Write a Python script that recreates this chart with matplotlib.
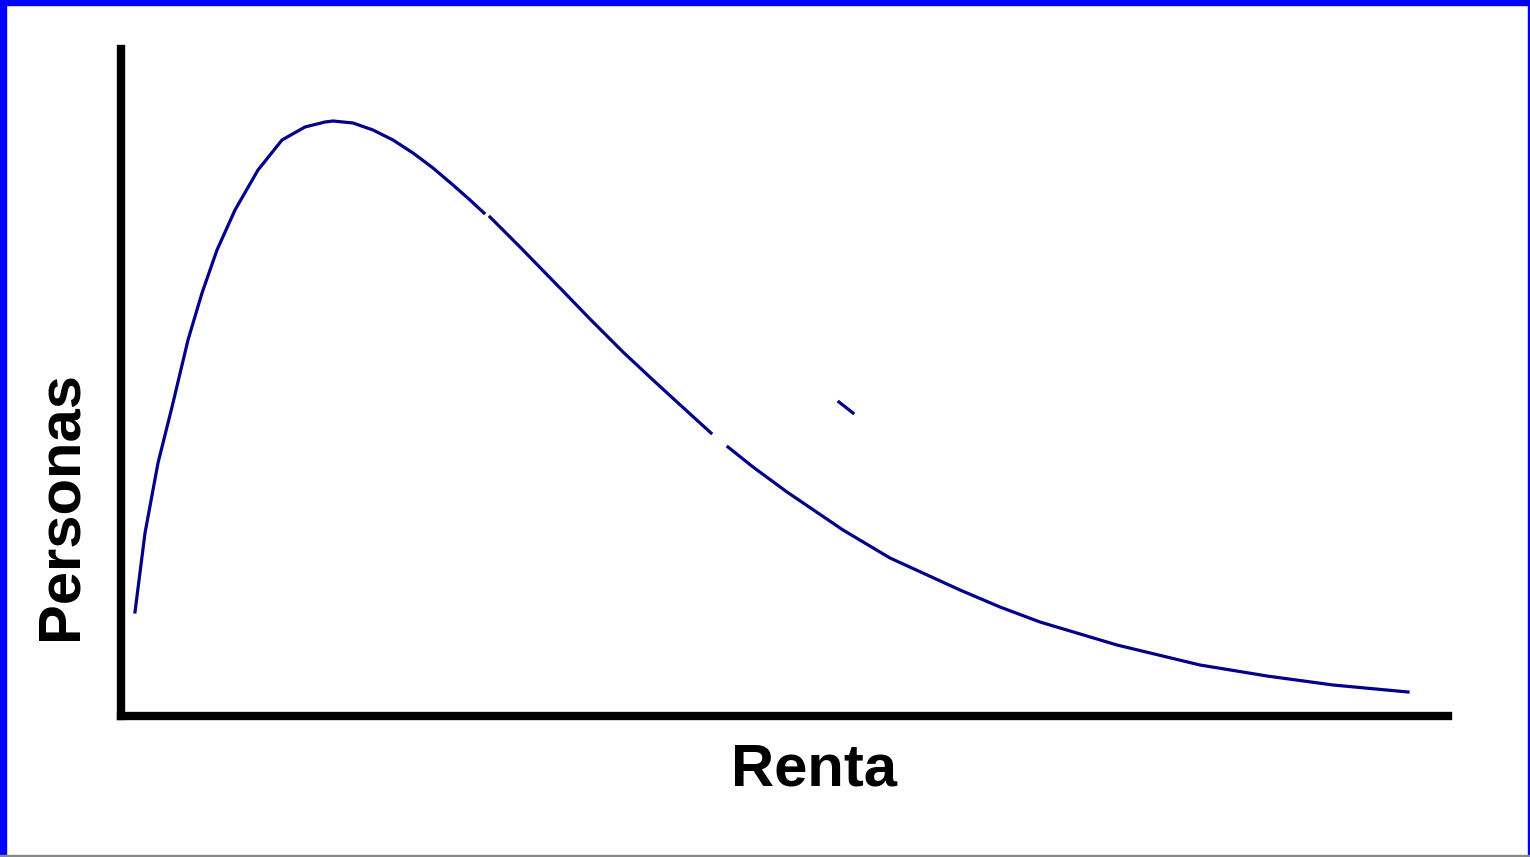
import numpy as np
import matplotlib
matplotlib.use("Agg")
import matplotlib.pyplot as plt
from matplotlib.patches import Rectangle

# income distribution curve (arbitrary units; NaN = break in the drawn line)
renta = [14, 24, 37, 51, 67, 81, 96, 114, 137, 161, 184, 204, 212, 232, 252, 272,
         292, 312, 332, 349, 363, np.nan, 369, 399, 439, 469, 502, 532, 556, 590,
         np.nan, 607, 632, 666, 722, 769, 839, 879, 919, 996, 1079, 1146, 1212, 1287]
personas = [104, 183, 253, 309, 376, 423, 466, 506, 546, 576, 589, 594, 595, 593,
            586, 576, 563, 548, 531, 516, 503, np.nan, 499, 469, 428, 397, 364, 336,
            314, 283, np.nan, 269, 249, 224, 186, 158, 126, 109, 94, 71, 51, 40, 31, 24]
# stray fragment of the curve
frag_renta = [718, 732]
frag_personas = [314, 303]

fig = plt.figure(figsize=(15.3, 8.57), dpi=100)
ax = fig.add_axes([121 / 1530, 141 / 857, 1327 / 1530, 667 / 857])

ax.plot(renta, personas, color="#00008b", lw=2.3)
ax.plot(frag_renta, frag_personas, color="#00008b", lw=2.3)

ax.set_xlim(0, 1327)
ax.set_ylim(0, 667)
ax.set_xticks([])
ax.set_yticks([])
for s in ["top", "right"]:
    ax.spines[s].set_visible(False)
for s in ["left", "bottom"]:
    ax.spines[s].set_linewidth(6)
    ax.spines[s].set_color("black")

fig.text(814 / 1530, 1 - 770 / 857, "Renta", fontsize=43, fontweight="bold",
         family="Liberation Sans", ha="center", va="center")
fig.text(61 / 1530, 1 - 506 / 857, "Personas", fontsize=43, fontweight="bold",
         family="Liberation Sans", ha="center", va="center", rotation=90)

# frame around the slide
W, H = 1530, 857
fig.patches.append(Rectangle((0, 0), 6 / W, 1, transform=fig.transFigure, color="#0000ff"))
fig.patches.append(Rectangle((0, 1 - 5 / H), 1, 5 / H, transform=fig.transFigure, color="#0000ff"))
fig.patches.append(Rectangle((1 - 2 / W, 0), 2 / W, 1, transform=fig.transFigure, color="#0000ff"))
fig.patches.append(Rectangle((0, 0), 1, 2 / H, transform=fig.transFigure, color="#888888"))

fig.savefig("out.png", dpi=100)
